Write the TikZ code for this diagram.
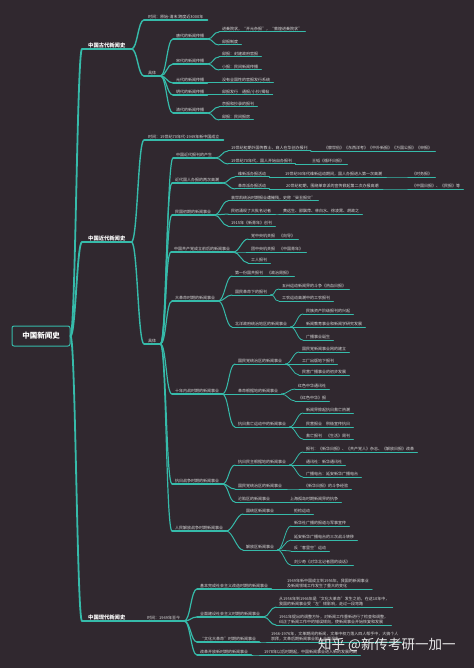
\documentclass[tikz,border=0pt]{standalone}
\usepackage{fontspec}
\setmainfont{Noto Sans CJK SC}
\definecolor{bgc}{HTML}{30282F}
\definecolor{tealc}{HTML}{36BBAA}
\definecolor{txtc}{HTML}{DCDCDC}
\tikzset{
  ln/.style={draw=tealc, line cap=round},
  nd/.style={anchor=south west, inner xsep=3pt, inner ysep=0.6pt, text=txtc, font=\fontsize{4}{5.3}\selectfont, align=left},
  ul/.style={append after command={(\tikzlastnode.south west) edge[ln, line width=#1] (\tikzlastnode.south east)}},
  ul/.default=0.8,
  lone/.style={nd, inner xsep=6pt, font=\fontsize{5.3}{6.5}\selectfont\bfseries, text=white},
  ltwo/.style={nd, inner xsep=4pt},
  rootbox/.style={draw=tealc, line width=1pt, rounded corners=2pt, fill=bgc, minimum width=58pt, minimum height=20pt, inner sep=0pt, font=\fontsize{7.5}{9}\selectfont\bfseries, text=white},
  cv/.style={to path={.. controls ([xshift=#1]\tikztostart) and ([xshift=-#1]\tikztotarget) .. (\tikztotarget)}},
  cv/.default=6,
  wa/.style={ln, line width=1.8pt},
  wb/.style={ln, line width=1.4pt},
  wc/.style={ln, line width=1.2pt},
  wd/.style={ln, line width=1.0pt},
  we/.style={ln, line width=0.8pt},
}
\begin{document}
\begin{tikzpicture}[x=1pt,y=-1pt]
\fill[bgc] (0,0) rectangle (474,668);
\useasboundingbox (0,0) rectangle (474,668);

% root
\node[rootbox] (root) at (41,336) {中国新闻史};

% level 1
\node[lone, ul=1.8] (a) at (82,49) {中国古代新闻史};
\node[lone, ul=1.8] (b) at (82,242) {中国近代新闻史};
\node[lone, ul=1.8] (c) at (82,621) {中国现代新闻史};

% ---------- ancient ----------
\node[ltwo, ul=1.4] (a1) at (144,20) {时间：原始-清末 跨度近3000年};
\node[ltwo, ul=1.4] (a2) at (144,76) {具体};
\node[nd, ul=1.2] (a21) at (173,39) {唐代的新闻传播};
\node[nd, ul=1.2] (a22) at (173,64) {宋代的新闻传播};
\node[nd, ul=1.2] (a23) at (173,83) {元代的新闻传播};
\node[nd, ul=1.2] (a24) at (173,95) {明代的新闻传播};
\node[nd, ul=1.2] (a25) at (173,113) {清代的新闻传播};
\node[nd, ul=1.0] (a211) at (219,32) {进奏院状，“开元杂报”，“敦煌进奏院状”};
\node[nd, ul=1.0] (a212) at (219,45) {邸报制度};
\node[nd, ul=1.0] (a221) at (219,57) {邸报：封建政府官报};
\node[nd, ul=1.0] (a222) at (219,70) {小报：民间新闻传播};
\node[nd, ul=1.0] (a231) at (219,83) {没有全国性的官报发行系统};
\node[nd, ul=1.0] (a241) at (219,95) {邸报发行　通报/小抄/揭帖};
\node[nd, ul=1.0] (a251) at (219,107) {京报和抄录的报刊};
\node[nd, ul=1.0] (a252) at (219,120) {邸报：民间报房};

% ---------- modern ----------
\node[ltwo, ul=1.4] (b1) at (144,140) {时间：19世纪70年代-1949年新中国成立};
\node[ltwo, ul=1.4] (b2) at (144,344) {具体};
\node[nd, ul=1.2] (b21) at (173,158) {中国近代报刊的产生};
\node[nd, ul=1.2] (b22) at (172,183) {近代国人办报的两次高潮};
\node[nd, ul=1.2] (b23) at (172,215) {民国初期的新闻事业};
\node[nd, ul=1.2] (b24) at (171,252) {中国共产党成立前后的新闻事业};
\node[nd, ul=1.2] (b25) at (172,301) {大革命时期的新闻事业};
\node[nd, ul=1.2] (b26) at (172,394) {十年内战时期的新闻事业};
\node[nd, ul=1.2] (b27) at (172,484) {抗日战争时期的新闻事业};
\node[nd, ul=1.2] (b28) at (172,531) {人民解放战争时期新闻事业};

\node[nd, ul=1.0] (b211) at (228,151) {19世纪初期外国传教士、商人在华创办报刊};
\node[nd, ul=0.8] (b2111) at (321,151) {《察世俗》《东西洋考》《中外新报》《万国公报》《申报》};
\node[nd, ul=1.0] (b212) at (228,164) {19世纪70年代，国人开始自办报刊};
\node[nd, ul=0.8] (b2121) at (309,164) {王韬《循环日报》};

\node[nd, ul=1.0] (b221) at (235,177) {维新派办报活动};
\node[nd, ul=0.8] (b2211) at (282,177) {19世纪90年代维新运动期间，国人办报进入第一次高潮};
\node[nd, ul=0.8] (b22111) at (409,177) {《时务报》};
\node[nd, ul=1.0] (b222) at (235,189) {革命派办报活动};
\node[nd, ul=0.8] (b2221) at (283,189) {20世纪初期，围绕革命派的宣传掀起第二次办报高潮};
\node[nd, ul=0.8] (b22211) at (409,189) {《中国日报》、《民报》等};

\node[nd, ul=1.0] (b231) at (228,201) {袁世凯统治时期报业遭摧残，史称“癸丑报灾”};
\node[nd, ul=1.0] (b232) at (228,214) {民初涌现了大批名记者};
\node[nd, ul=0.8] (b2321) at (280,214) {黄远生、邵飘萍、林白水、徐凌霄、胡政之};
\node[nd, ul=1.0] (b233) at (228,226) {1915年《新青年》创刊};

\node[nd, ul=1.0] (b241) at (248,239) {党中央机关报　《向导》};
\node[nd, ul=1.0] (b242) at (248,252) {团中央机关报　《中国青年》};
\node[nd, ul=1.0] (b243) at (248,263) {工人报刊};

\node[nd, ul=1.0] (b251) at (232,276) {第一份国共报刊　《政治周报》};
\node[nd, ul=1.0] (b252) at (232,295) {国民革命下的报刊};
\node[nd, ul=0.8] (b2521) at (279,289) {五卅运动新闻界的斗争《热血日报》};
\node[nd, ul=0.8] (b2522) at (279,301) {工农运动高潮中的工农报刊};
\node[nd, ul=1.0] (b253) at (232,327) {北洋政府统治地区的新闻事业};
\node[nd, ul=0.8] (b2531) at (303,314) {民族资产阶级报刊的兴起};
\node[nd, ul=0.8] (b2532) at (303,327) {新闻教育事业和新闻学研究发展};
\node[nd, ul=0.8] (b2533) at (303,340) {广播事业诞生};

\node[nd, ul=1.0] (b261) at (235,364) {国民党统治区的新闻事业};
\node[nd, ul=0.8] (b2611) at (299,352) {国民党新闻事业网的建立};
\node[nd, ul=0.8] (b2612) at (299,364) {工厂出版地下报刊};
\node[nd, ul=0.8] (b2613) at (299,375) {民营广播事业的初步发展};
\node[nd, ul=1.0] (b262) at (235,394) {革命根据地的新闻事业};
\node[nd, ul=0.8] (b2621) at (295,389) {红色中华通讯社};
\node[nd, ul=0.8] (b2622) at (295,401) {《红色中华》报};
\node[nd, ul=1.0] (b263) at (235,427) {抗日救亡运动中的新闻事业};
\node[nd, ul=0.8] (b2631) at (303,413) {新闻界掀起抗日救亡热潮};
\node[nd, ul=0.8] (b2632) at (303,427) {民营报业　积极宣传抗日};
\node[nd, ul=0.8] (b2633) at (303,439) {救亡报刊　《生活》周刊};

\node[nd, ul=1.0] (b271) at (235,465) {抗日民主根据地的新闻事业};
\node[nd, ul=0.8] (b2711) at (303,452) {报刊：《新华日报》、《共产党人》杂志、《解放日报》改革};
\node[nd, ul=0.8] (b2712) at (303,465) {通讯社：新华通讯社};
\node[nd, ul=0.8] (b2713) at (303,477) {广播电台：延安新华广播电台};
\node[nd, ul=1.0] (b272) at (235,489) {国民党统治区的新闻事业};
\node[nd, ul=0.8] (b2721) at (301,489) {《新华日报》的斗争经验};
\node[nd, ul=1.0] (b273) at (235,502) {沦陷区的新闻事业};
\node[nd, ul=0.8] (b2731) at (287,502) {上海孤岛时期新闻界的抗争};

\node[nd, ul=1.0] (b281) at (243,514) {国统区新闻事业};
\node[nd, ul=0.8] (b2811) at (291,514) {拒检运动};
\node[nd, ul=1.0] (b282) at (243,550) {解放区新闻事业};
\node[nd, ul=0.8] (b2821) at (291,526) {新华社广播的报道与军事宣传};
\node[nd, ul=0.8] (b2822) at (291,540) {延安新华广播电台的三次战斗转移};
\node[nd, ul=0.8] (b2823) at (291,551) {反“客里空”运动};
\node[nd, ul=0.8] (b2824) at (291,565) {刘少奇《对华北记者团的谈话》};

% ---------- contemporary ----------
\node[ltwo, ul=1.4] (c0) at (143,621) {时间：1949年至今};
\node[nd, ul=1.2] (c1) at (197,589) {基本完成社会主义改造时期的新闻事业};
\node[nd, ul=1.2] (c2) at (197,617) {全面建设社会主义时期的新闻事业};
\node[nd, ul=1.2] (c3) at (197,642) {“文化大革命”时期的新闻事业};
\node[nd, ul=1.2] (c4) at (197,655) {改革开放新时期的新闻事业};
\node[nd, ul=1.0] (c11) at (284,589) {1949年新中国成立到1956年，我国的新闻事业\\及新闻领域工作发生了重大的变化};
\node[nd, ul=1.0] (c21) at (276,607) {从1956年到1966年是“文化大革命”发生之前，在这10年中，\\我国的新闻事业受“左”倾影响，走过一段弯路};
\node[nd, ul=1.0] (c22) at (276,625) {1961年提出的调整方针，对新闻工作重新进行了检查和调整，\\纠正了新闻工作中的错误倾向，使新闻事业开始恢复和发展};
\node[nd, ul=1.0] (c31) at (268,642) {1966-1976年，文革期间的新闻，文革中权力落入四人帮手中，大搞个人\\崇拜，文革后期新闻事业陷入全面混乱};
\node[nd, ul=1.0] (c41) at (261,655) {1978年以后时期起，中国新闻事业进入新的发展时期};

% ---------- connectors ----------
\foreach \c in {a,b,c} \draw[wa] (root.east) to[cv=5] (\c.south west);
\foreach \p/\c in {a/a1,a/a2,b/b1,b/b2,c/c0} \draw[wb] (\p.south east) to[cv] (\c.south west);
\foreach \p/\c in {a2/a21,a2/a22,a2/a23,a2/a24,a2/a25,b2/b21,b2/b22,b2/b23,b2/b24,b2/b25,b2/b26,b2/b27,b2/b28,c0/c1,c0/c2,c0/c3,c0/c4}
  \draw[wc] (\p.south east) to[cv] (\c.south west);
\foreach \p/\c in {a21/a211,a21/a212,a22/a221,a22/a222,a23/a231,a24/a241,a25/a251,a25/a252,
  b21/b211,b21/b212,b22/b221,b22/b222,b23/b231,b23/b232,b23/b233,b24/b241,b24/b242,b24/b243,
  b25/b251,b25/b252,b25/b253,b26/b261,b26/b262,b26/b263,b27/b271,b27/b272,b27/b273,b28/b281,b28/b282,
  c1/c11,c2/c21,c2/c22,c3/c31,c4/c41}
  \draw[wd] (\p.south east) to[cv] (\c.south west);
\foreach \p/\c in {b211/b2111,b212/b2121,b221/b2211,b222/b2221,b232/b2321,b252/b2521,b252/b2522,
  b253/b2531,b253/b2532,b253/b2533,b261/b2611,b261/b2612,b261/b2613,b262/b2621,b262/b2622,
  b263/b2631,b263/b2632,b263/b2633,b271/b2711,b271/b2712,b271/b2713,b272/b2721,b273/b2731,
  b281/b2811,b282/b2821,b282/b2822,b282/b2823,b282/b2824,b2211/b22111,b2221/b22211}
  \draw[we] (\p.south east) to[cv] (\c.south west);

% watermark
\node[anchor=west, inner sep=0pt, text=white, opacity=0.9, font=\fontsize{13.5}{15}\selectfont] (wm) at (318,645) {知乎 @新传考研一加一};
\end{tikzpicture}
\end{document}
